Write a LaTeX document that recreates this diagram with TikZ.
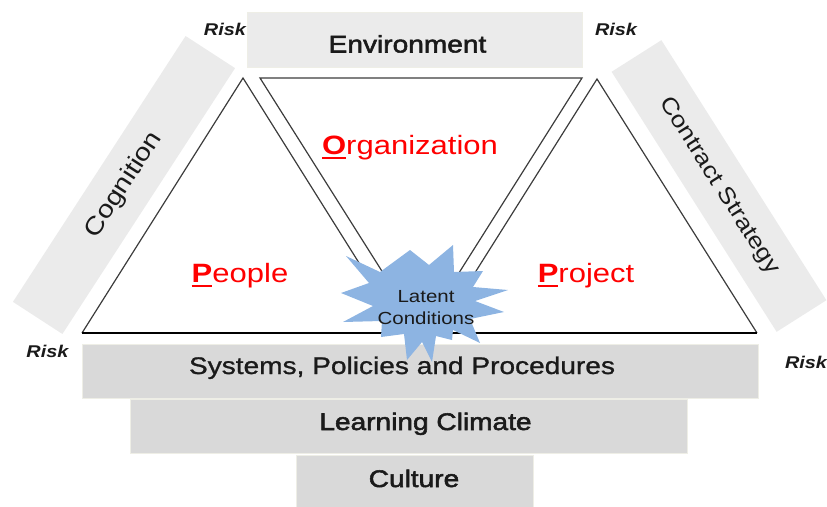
\documentclass[tikz,border=0pt]{standalone}
\usepackage{fontspec}
\setmainfont[FakeStretch=1.17]{Liberation Sans}
\newfontfamily\hdfont[FakeStretch=1.17,FakeBold=2.2]{Liberation Sans}
\newfontfamily\sysfont[FakeStretch=1.17,FakeBold=1.0]{Liberation Sans}
\definecolor{barfill}{HTML}{EBEBEB}
\definecolor{boxfill}{HTML}{D9D9D9}
\definecolor{boxedge}{HTML}{EEEEE6}
\definecolor{starblue}{HTML}{8DB4E2}
\definecolor{lblred}{HTML}{FF0000}
\definecolor{ink}{HTML}{1A1A1A}
\newcommand\firstul[1]{\setbox0=\hbox{\bfseries #1}\rlap{\vrule height -2.8pt depth 5.4pt width \wd0}\box0}
\tikzset{
  triside/.style={draw=ink!85, line width=1.2pt, line join=miter},
  baseline/.style={draw=black, line width=2.6pt},
  barbox/.style={fill=barfill, draw=none, inner sep=0pt, text=ink},
  layerbox/.style={fill=boxfill, draw=boxedge, line width=0.8pt, inner sep=0pt},
  layertxt/.style={font=\sysfont\fontsize{24}{28}\selectfont, text=ink, anchor=base, inner sep=0pt},
  headtxt/.style={font=\hdfont\fontsize{24}{28}\selectfont, text=ink, anchor=base, inner sep=0pt},
  risk/.style={font=\fontsize{17}{20}\selectfont\bfseries\itshape, text=ink, anchor=base, inner sep=0pt},
  redlbl/.style={font=\fontsize{26.5}{30}\selectfont, text=lblred, anchor=base, inner sep=0pt},
}
\begin{document}
\begin{tikzpicture}[x=1pt,y=-1pt]
\useasboundingbox (0,0) rectangle (827,506);
% side bars
\node[barbox, minimum width=317pt, minimum height=59pt, rotate=57,
      font=\fontsize{24.5}{28}\selectfont] (cog) at (124,185) {Cognition};
\node[barbox, minimum width=308pt, minimum height=59pt, rotate=-57.6,
      font=\fontsize{22.5}{26}\selectfont] (contract) at (719,186) {Contract Strategy};
% environment box
\node[fill=barfill, draw=boxedge, line width=0.6pt, minimum width=335pt, minimum height=55pt, inner sep=0pt] (envbox) at (414.5,39.5) {};
\node[headtxt] (envtxt) at (407.5,52.5) {Environment};
% triangle corners
\coordinate (La) at (243,78);
\coordinate (Lb) at (82,333);
\coordinate (Lr) at (403,333);
\coordinate (Itl) at (260,78);
\coordinate (Itr) at (582,78);
\coordinate (Iap) at (421,333);
\coordinate (Ra) at (597,79);
\coordinate (Rl) at (437,333);
\coordinate (Rr) at (757,333);
% triangles
\draw[triside] (Lb) -- (La) -- (Lr);
\draw[triside] (Iap) -- (Itl) -- (Itr) -- cycle;
\draw[triside] (Rl) -- (Ra) -- (Rr);
\draw[baseline] (Lb) -- (Rr);
% layered boxes
\node[layerbox, minimum width=676pt, minimum height=54pt] (sysbox) at (420,371) {};
\node[layerbox, minimum width=557pt, minimum height=54pt] (learnbox) at (408.5,426) {};
\node[layerbox, minimum width=237pt, minimum height=53pt] (culturebox) at (414.5,481.5) {};
\node[layertxt] (systxt) at (402,374) {Systems, Policies and Procedures};
\node[headtxt] (learntxt) at (425.5,430) {Learning Climate};
\node[headtxt] (culturetxt) at (414,487) {Culture};
% star
\fill[starblue] (453,245) -- (454,272) -- (483,271) -- (473,287) -- (508,290) -- (475,301)
  -- (504,312) -- (470,319) -- (480,343) -- (453,330) -- (452,340) -- (436,336)
  -- (432,362) -- (422,342) -- (407,360) -- (404,334) -- (381,337) -- (382,321)
  -- (343,322) -- (373,306) -- (341,293) -- (369,283) -- (346,256) -- (380,272)
  -- (410,250) -- (429,265) -- cycle;
\node[font=\fontsize{17.5}{22}\selectfont, text=ink, align=center, inner sep=0pt] (latent) at (426,307.5) {Latent\\Conditions};
% red labels
\node[redlbl] (org) at (410,154) {\firstul{O}rganization};
\node[redlbl] (people) at (240,282) {\firstul{P}eople};
\node[redlbl] (project) at (586,282) {\firstul{P}roject};
% risk labels
\node[risk] (risktl) at (225,35) {Risk};
\node[risk] (risktr) at (616,35) {Risk};
\node[risk] (riskbl) at (47.5,357) {Risk};
\node[risk] (riskbr) at (806,368) {Risk};
\end{tikzpicture}
\end{document}
